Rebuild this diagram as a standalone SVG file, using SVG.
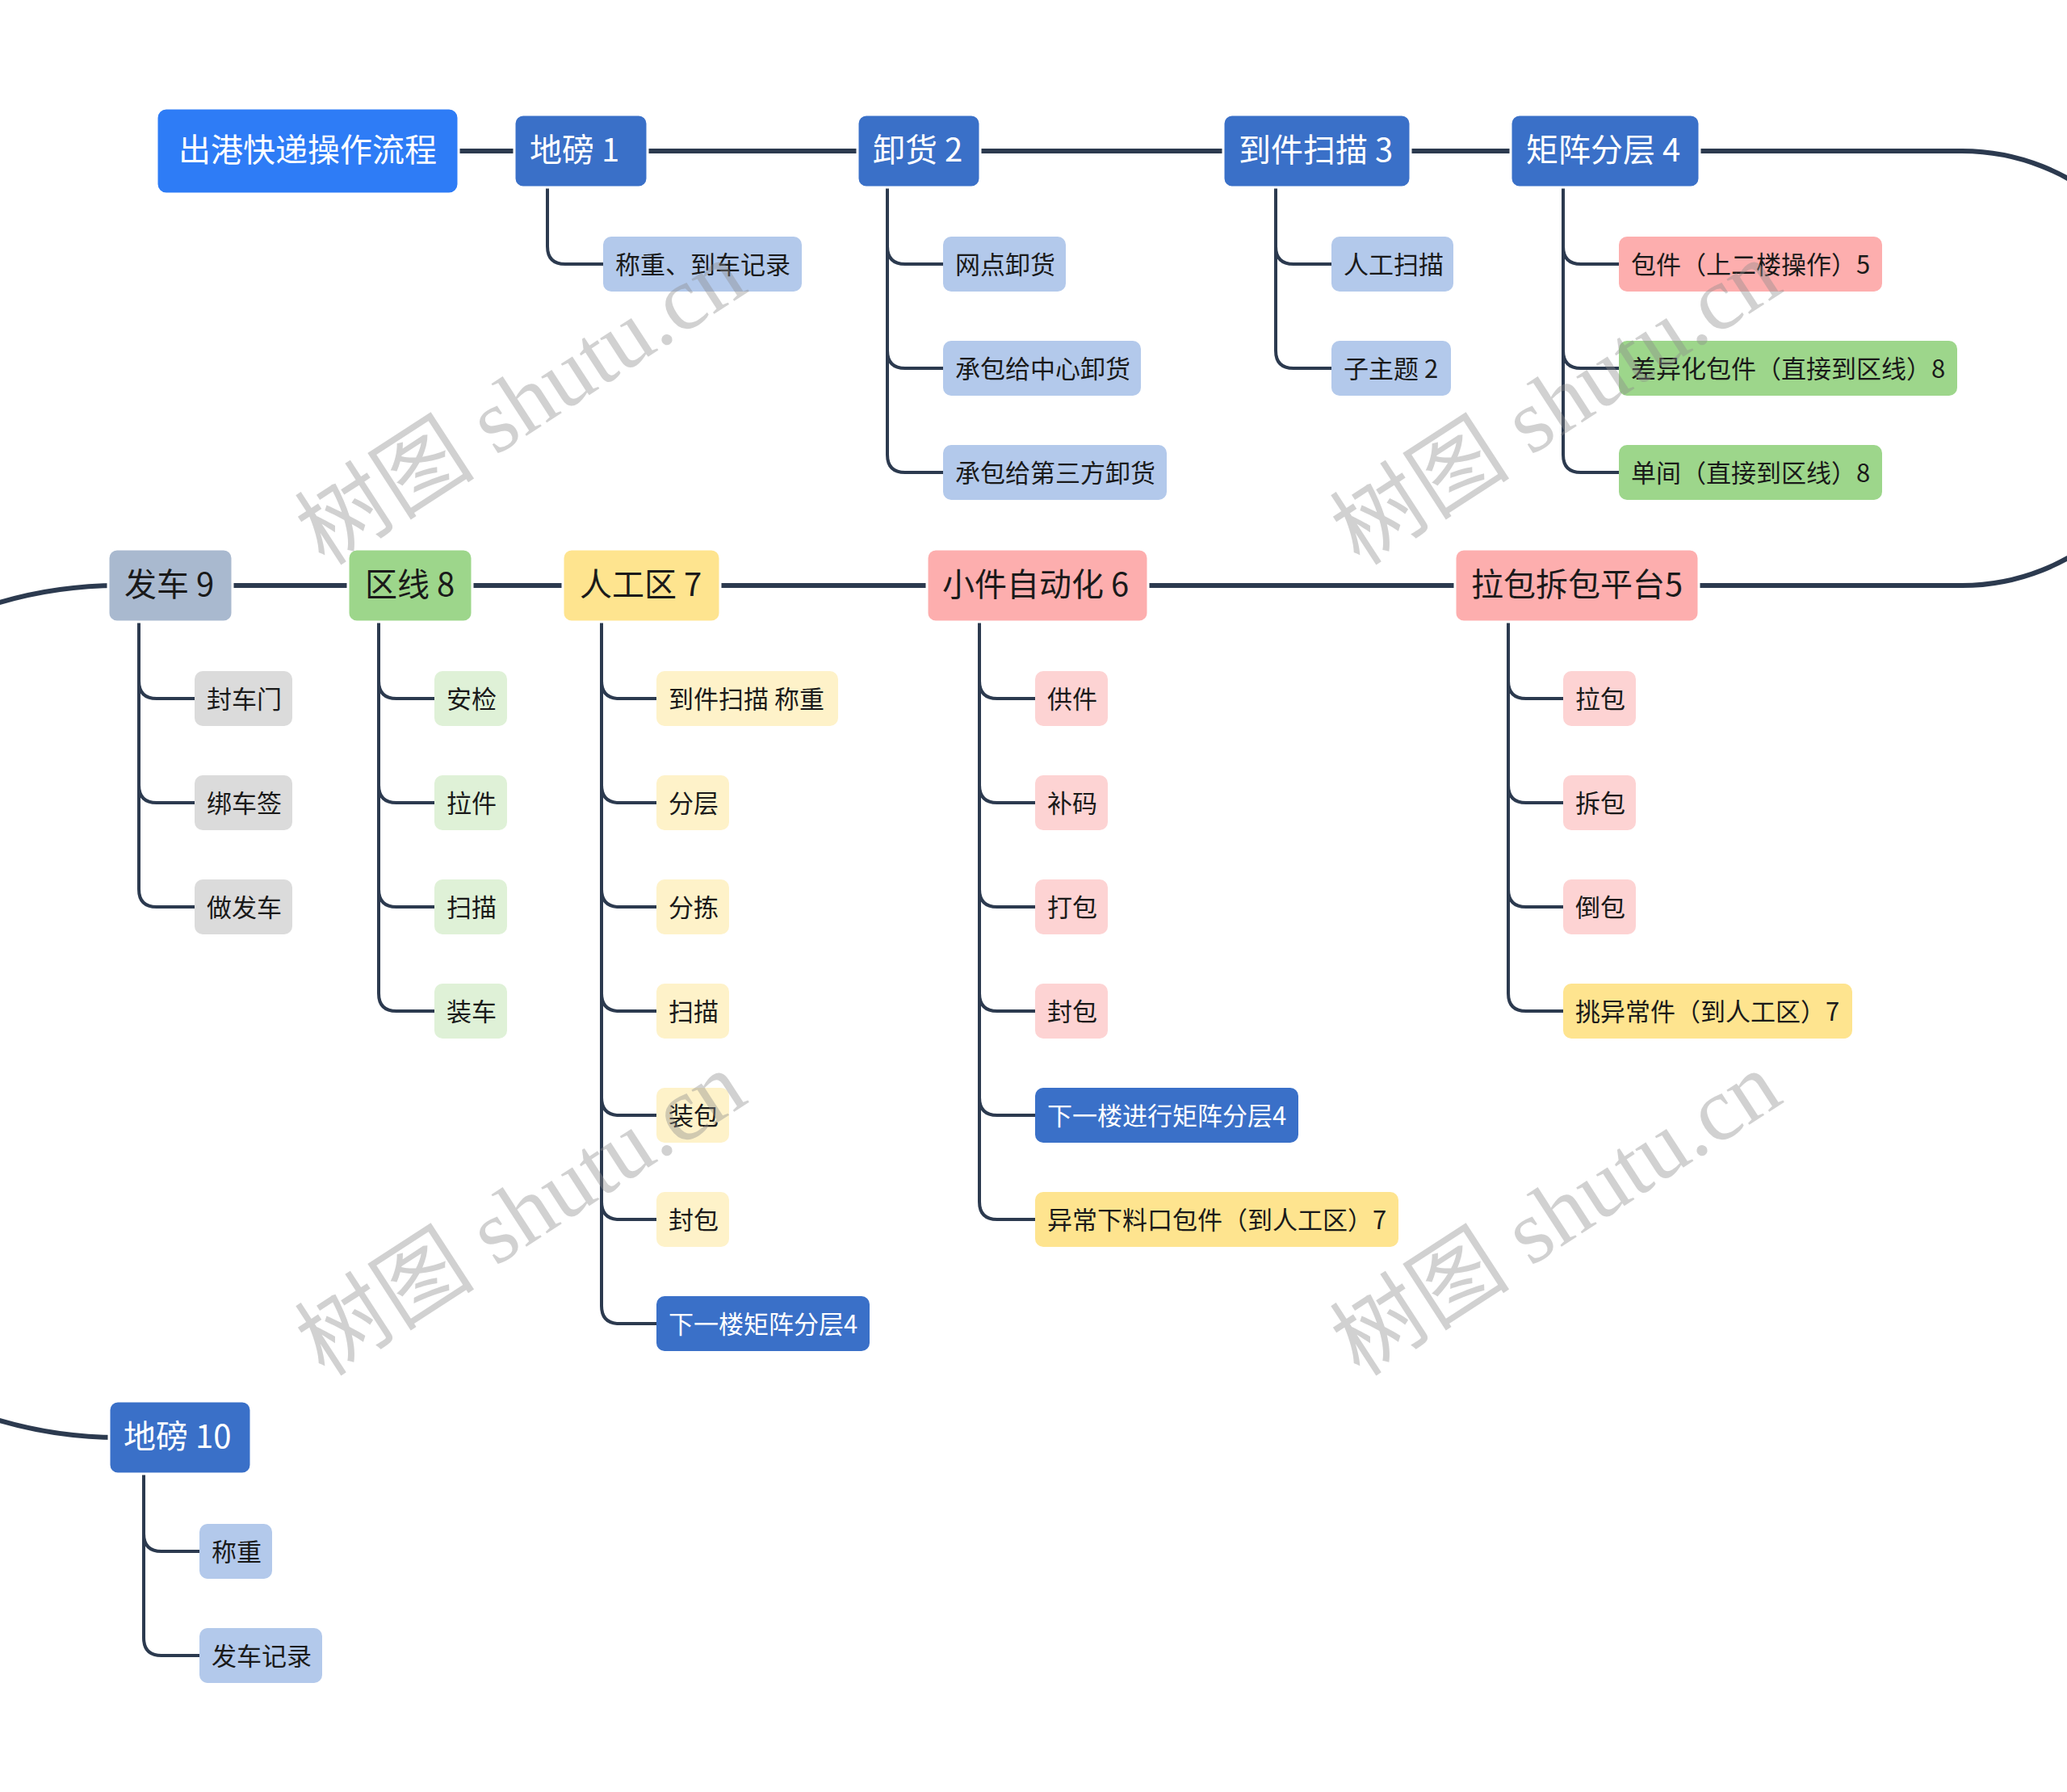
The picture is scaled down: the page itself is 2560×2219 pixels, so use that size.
<svg xmlns="http://www.w3.org/2000/svg" width="2560" height="2219" viewBox="0 0 2560 2219">
<style>
.spine{fill:none;stroke:#2c3a4f;stroke-width:6}
.br{fill:none;stroke:#2c3a4f;stroke-width:4;stroke-linecap:round}
.m{stroke:#ffffff;stroke-width:3}
.t40{font-family:"Noto Sans CJK SC","Noto Sans",sans-serif;font-size:40px;dominant-baseline:central;transform:translateY(-4px)}
.t31{font-family:"Noto Sans CJK SC","Noto Sans",sans-serif;font-size:31px;dominant-baseline:central;transform:translateY(-2px)}
.w{fill:#ffffff}
.k{fill:#1a1a1a}
.root{fill:#2e7cf6}
.blue{fill:#3a70c8}
.lblue{fill:#b3c9eb}
.pink{fill:#fdaeae}
.lpink{fill:#fdd3d3}
.green{fill:#9dd68b}
.lgreen{fill:#dff1d7}
.yellow{fill:#fee48f}
.lyellow{fill:#fef2c9}
.slate{fill:#a9b9cf}
.gray{fill:#dbdbdb}
.wm{font-family:"Liberation Serif","Noto Sans CJK SC",serif;font-size:112px;fill:#8c8c8c;fill-opacity:0.4;text-anchor:middle;dominant-baseline:central}
</style>
<rect width="2560" height="2219" fill="#ffffff"/>
<g id="connectors">
<path class="spine" d="M568 187 H2430 A269 269 0 0 1 2430 725 H147 A527.5 527.5 0 0 0 147 1780 H200"/>
<path class="br" d="M678 232 V305 Q678 327 700 327 H747"/>
<path class="br" d="M1099 232 V563 Q1099 585 1121 585 H1168 M1099 305 Q1099 327 1121 327 H1168 M1099 434 Q1099 456 1121 456 H1168"/>
<path class="br" d="M1580 232 V434 Q1580 456 1602 456 H1649 M1580 305 Q1580 327 1602 327 H1649"/>
<path class="br" d="M1936 232 V563 Q1936 585 1958 585 H2005 M1936 305 Q1936 327 1958 327 H2005 M1936 434 Q1936 456 1958 456 H2005"/>
<path class="br" d="M172 770 V1101 Q172 1123 194 1123 H241 M172 843 Q172 865 194 865 H241 M172 972 Q172 994 194 994 H241"/>
<path class="br" d="M469 770 V1230 Q469 1252 491 1252 H538 M469 843 Q469 865 491 865 H538 M469 972 Q469 994 491 994 H538 M469 1101 Q469 1123 491 1123 H538"/>
<path class="br" d="M745 770 V1617 Q745 1639 767 1639 H813 M745 843 Q745 865 767 865 H813 M745 972 Q745 994 767 994 H813 M745 1101 Q745 1123 767 1123 H813 M745 1230 Q745 1252 767 1252 H813 M745 1359 Q745 1381 767 1381 H813 M745 1488 Q745 1510 767 1510 H813"/>
<path class="br" d="M1213 770 V1488 Q1213 1510 1235 1510 H1282 M1213 843 Q1213 865 1235 865 H1282 M1213 972 Q1213 994 1235 994 H1282 M1213 1101 Q1213 1123 1235 1123 H1282 M1213 1230 Q1213 1252 1235 1252 H1282 M1213 1359 Q1213 1381 1235 1381 H1282"/>
<path class="br" d="M1868 770 V1230 Q1868 1252 1890 1252 H1936 M1868 843 Q1868 865 1890 865 H1936 M1868 972 Q1868 994 1890 994 H1936 M1868 1101 Q1868 1123 1890 1123 H1936"/>
<path class="br" d="M178 1826 V2028 Q178 2050 200 2050 H247 M178 1899 Q178 1921 200 1921 H247"/>
</g>
<g id="root"><rect class="root m" x="194" y="134" width="374" height="106" rx="12"/><text class="t40 w" x="381" y="187" text-anchor="middle">出港快递操作流程</text></g>
<g id="n1"><rect class="blue m" x="637" y="142" width="165" height="90" rx="11"/><text class="t40 w" x="656" y="187">地磅 1</text></g>
<g id="n2"><rect class="blue m" x="1062" y="142" width="152" height="90" rx="11"/><text class="t40 w" x="1081" y="187">卸货 2</text></g>
<g id="n3"><rect class="blue m" x="1515" y="142" width="232" height="90" rx="11"/><text class="t40 w" x="1534" y="187">到件扫描 3</text></g>
<g id="n4"><rect class="blue m" x="1871" y="142" width="234" height="90" rx="11"/><text class="t40 w" x="1890" y="187">矩阵分层 4</text></g>
<g id="n1a"><rect class="lblue" x="747" y="293" width="246" height="68" rx="10"/><text class="t31 k" x="762" y="327">称重、到车记录</text></g>
<g id="n2a"><rect class="lblue" x="1168" y="293" width="152" height="68" rx="10"/><text class="t31 k" x="1183" y="327">网点卸货</text></g>
<g id="n2b"><rect class="lblue" x="1168" y="422" width="245" height="68" rx="10"/><text class="t31 k" x="1183" y="456">承包给中心卸货</text></g>
<g id="n2c"><rect class="lblue" x="1168" y="551" width="277" height="68" rx="10"/><text class="t31 k" x="1183" y="585">承包给第三方卸货</text></g>
<g id="n3a"><rect class="lblue" x="1649" y="293" width="151" height="68" rx="10"/><text class="t31 k" x="1664" y="327">人工扫描</text></g>
<g id="n3b"><rect class="lblue" x="1649" y="422" width="148" height="68" rx="10"/><text class="t31 k" x="1664" y="456">子主题 2</text></g>
<g id="n4a"><rect class="pink" x="2005" y="293" width="326" height="68" rx="10"/><text class="t31 k" x="2020" y="327">包件（上二楼操作）5</text></g>
<g id="n4b"><rect class="green" x="2005" y="422" width="419" height="68" rx="10"/><text class="t31 k" x="2020" y="456">差异化包件（直接到区线）8</text></g>
<g id="n4c"><rect class="green" x="2005" y="551" width="326" height="68" rx="10"/><text class="t31 k" x="2020" y="585">单间（直接到区线）8</text></g>
<g id="n9"><rect class="slate m" x="134" y="680" width="154" height="90" rx="11"/><text class="t40 k" x="154" y="725">发车 9</text></g>
<g id="n8"><rect class="green m" x="431" y="680" width="154" height="90" rx="11"/><text class="t40 k" x="452" y="725">区线 8</text></g>
<g id="n7"><rect class="yellow m" x="697" y="680" width="195" height="90" rx="11"/><text class="t40 k" x="718" y="725">人工区 7</text></g>
<g id="n6"><rect class="pink m" x="1148" y="680" width="274" height="90" rx="11"/><text class="t40 k" x="1167" y="725">小件自动化 6</text></g>
<g id="n5"><rect class="pink m" x="1802" y="680" width="302" height="90" rx="11"/><text class="t40 k" x="1822" y="725">拉包拆包平台5</text></g>
<g id="n9a"><rect class="gray" x="241" y="831" width="121" height="68" rx="10"/><text class="t31 k" x="256" y="865">封车门</text></g>
<g id="n9b"><rect class="gray" x="241" y="960" width="121" height="68" rx="10"/><text class="t31 k" x="256" y="994">绑车签</text></g>
<g id="n9c"><rect class="gray" x="241" y="1089" width="121" height="68" rx="10"/><text class="t31 k" x="256" y="1123">做发车</text></g>
<g id="n8a"><rect class="lgreen" x="538" y="831" width="90" height="68" rx="10"/><text class="t31 k" x="553" y="865">安检</text></g>
<g id="n8b"><rect class="lgreen" x="538" y="960" width="90" height="68" rx="10"/><text class="t31 k" x="553" y="994">拉件</text></g>
<g id="n8c"><rect class="lgreen" x="538" y="1089" width="90" height="68" rx="10"/><text class="t31 k" x="553" y="1123">扫描</text></g>
<g id="n8d"><rect class="lgreen" x="538" y="1218" width="90" height="68" rx="10"/><text class="t31 k" x="553" y="1252">装车</text></g>
<g id="n7a"><rect class="lyellow" x="813" y="831" width="225" height="68" rx="10"/><text class="t31 k" x="828" y="865">到件扫描 称重</text></g>
<g id="n7b"><rect class="lyellow" x="813" y="960" width="90" height="68" rx="10"/><text class="t31 k" x="828" y="994">分层</text></g>
<g id="n7c"><rect class="lyellow" x="813" y="1089" width="90" height="68" rx="10"/><text class="t31 k" x="828" y="1123">分拣</text></g>
<g id="n7d"><rect class="lyellow" x="813" y="1218" width="90" height="68" rx="10"/><text class="t31 k" x="828" y="1252">扫描</text></g>
<g id="n7e"><rect class="lyellow" x="813" y="1347" width="90" height="68" rx="10"/><text class="t31 k" x="828" y="1381">装包</text></g>
<g id="n7f"><rect class="lyellow" x="813" y="1476" width="90" height="68" rx="10"/><text class="t31 k" x="828" y="1510">封包</text></g>
<g id="n7g"><rect class="blue" x="813" y="1605" width="264" height="68" rx="10"/><text class="t31 w" x="828" y="1639">下一楼矩阵分层4</text></g>
<g id="n6a"><rect class="lpink" x="1282" y="831" width="90" height="68" rx="10"/><text class="t31 k" x="1297" y="865">供件</text></g>
<g id="n6b"><rect class="lpink" x="1282" y="960" width="90" height="68" rx="10"/><text class="t31 k" x="1297" y="994">补码</text></g>
<g id="n6c"><rect class="lpink" x="1282" y="1089" width="90" height="68" rx="10"/><text class="t31 k" x="1297" y="1123">打包</text></g>
<g id="n6d"><rect class="lpink" x="1282" y="1218" width="90" height="68" rx="10"/><text class="t31 k" x="1297" y="1252">封包</text></g>
<g id="n6e"><rect class="blue" x="1282" y="1347" width="326" height="68" rx="10"/><text class="t31 w" x="1297" y="1381">下一楼进行矩阵分层4</text></g>
<g id="n6f"><rect class="yellow" x="1282" y="1476" width="450" height="68" rx="10"/><text class="t31 k" x="1297" y="1510">异常下料口包件（到人工区）7</text></g>
<g id="n5a"><rect class="lpink" x="1936" y="831" width="90" height="68" rx="10"/><text class="t31 k" x="1951" y="865">拉包</text></g>
<g id="n5b"><rect class="lpink" x="1936" y="960" width="90" height="68" rx="10"/><text class="t31 k" x="1951" y="994">拆包</text></g>
<g id="n5c"><rect class="lpink" x="1936" y="1089" width="90" height="68" rx="10"/><text class="t31 k" x="1951" y="1123">倒包</text></g>
<g id="n5d"><rect class="yellow" x="1936" y="1218" width="358" height="68" rx="10"/><text class="t31 k" x="1951" y="1252">挑异常件（到人工区）7</text></g>
<g id="n10"><rect class="blue m" x="135" y="1735" width="176" height="90" rx="11"/><text class="t40 w" x="153" y="1780">地磅 10</text></g>
<g id="n10a"><rect class="lblue" x="247" y="1887" width="90" height="68" rx="10"/><text class="t31 k" x="262" y="1921">称重</text></g>
<g id="n10b"><rect class="lblue" x="247" y="2016" width="152" height="68" rx="10"/><text class="t31 k" x="262" y="2050">发车记录</text></g>
<g id="watermarks">
<text class="wm" transform="translate(645,499) rotate(-33)">树图 shutu.cn</text>
<text class="wm" transform="translate(1927,499) rotate(-33)">树图 shutu.cn</text>
<text class="wm" transform="translate(645,1503) rotate(-33)">树图 shutu.cn</text>
<text class="wm" transform="translate(1927,1503) rotate(-33)">树图 shutu.cn</text>
</g>
</svg>
